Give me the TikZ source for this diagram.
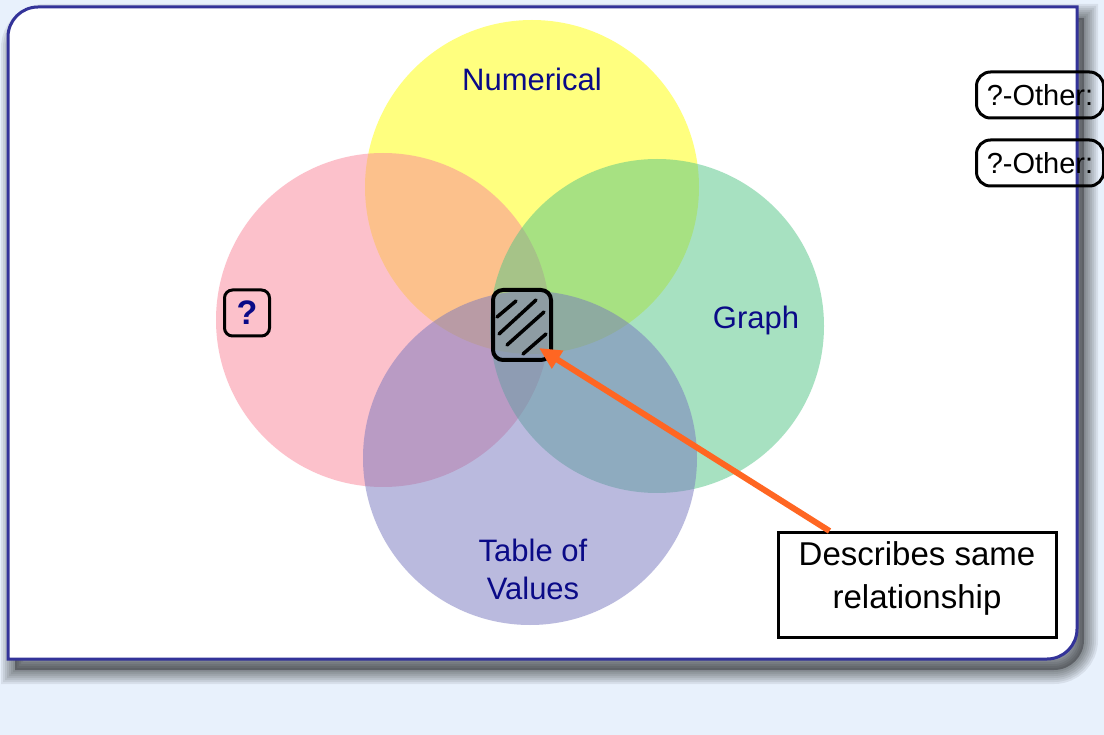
\documentclass[tikz,border=0pt]{standalone}
\usepackage{fontspec}
\setmainfont{Liberation Sans}
\usetikzlibrary{arrows.meta}
\definecolor{pagebg}{RGB}{232,241,252}
\definecolor{panelblue}{RGB}{51,51,153}
\definecolor{setyellow}{RGB}{255,255,0}
\definecolor{setpink}{RGB}{251,133,153}
\definecolor{setgreen}{RGB}{81,197,133}
\definecolor{setpurple}{RGB}{119,119,191}
\definecolor{setnavy}{RGB}{10,10,135}
\definecolor{arroworange}{RGB}{255,102,34}
\def\panelpath{(8,659) -- (8,37) arc (180:270:30) -- (1077,7) -- (1077,629) arc (0:90:30) -- cycle}
\begin{document}
\begin{tikzpicture}[x=1pt, y=-1pt]
		\tikzset{set/.style={circle, inner sep=0, minimum size=334pt, fill opacity=0.5}}
		\tikzset{setlabel/.style={text=setnavy, font=\fontsize{31}{38}\selectfont, align=center}}
		\tikzset{otherbox/.style={draw, rounded corners=14pt, line width=3pt, minimum width=127pt, minimum height=46pt, inner sep=0, font=\fontsize{29}{34}\selectfont}}
		\tikzset{ar/.style={-{Triangle[length=22pt,width=20pt]}, draw=arroworange, line width=6pt}}
		\useasboundingbox (0,0) rectangle (1104,735);
		\fill[pagebg] (0,0) rectangle (1104,735);
		% shadow and panel
		\begin{scope}[shift={(7,11)}]
			\fill[black, opacity=0.3] \panelpath;
			\foreach \w in {28,24,...,4}
				\draw[black, opacity=0.07, line width=\w pt] \panelpath;
		\end{scope}
		\draw[panelblue, line width=3pt, fill=white] \panelpath;
		% the four sets
		\node[set, fill=setyellow] at (532,187) (numerical) {};
		\node[set, fill=setpink] at (383,320) (unknown) {};
		\node[set, fill=setgreen] at (657,326) (graph) {};
		\node[set, fill=setpurple] at (530,458) (table) {};
		\node[setlabel] at (532,79) (numlabel) {Numerical};
		\node[setlabel] at (756,320) (graphlabel) {Graph};
		\node[setlabel] at (533,569) (tablelabel) {Table of\\Values};
		\node[draw, rounded corners=8pt, line width=3pt, minimum width=45pt, minimum height=46pt, inner sep=0, text=setnavy, font=\fontsize{34}{38}\selectfont\bfseries] at (247,313) (question) {?};
		% hatched overlap
		\node[draw, line width=4pt, rounded corners=10pt, minimum width=58pt, minimum height=70pt] at (522,325) (overlap) {};
		\foreach \ax/\ay/\bx/\by in {497/317/516/301, 499/334/536/300, 507/345/544/312, 523/354/546/334}
			\draw[black, line width=3.5pt, line cap=round] (\ax,\ay) -- (\bx,\by);
		\node[draw, line width=3pt, fill=white, minimum width=278pt, minimum height=105pt] at (917,585) (describe) {};
		\node[align=center, font=\fontsize{33}{43}\selectfont] at (917,578) (describetext) {Describes same\\relationship};
		\draw[ar] ([xshift=53pt]describe.north west) -- ([xshift=-14pt,yshift=14pt]overlap.south east);
		\node[otherbox] at (1040,95) (other1) {?-Other:};
		\node[otherbox] at (1040,163) (other2) {?-Other:};
	\end{tikzpicture}
\end{document}
